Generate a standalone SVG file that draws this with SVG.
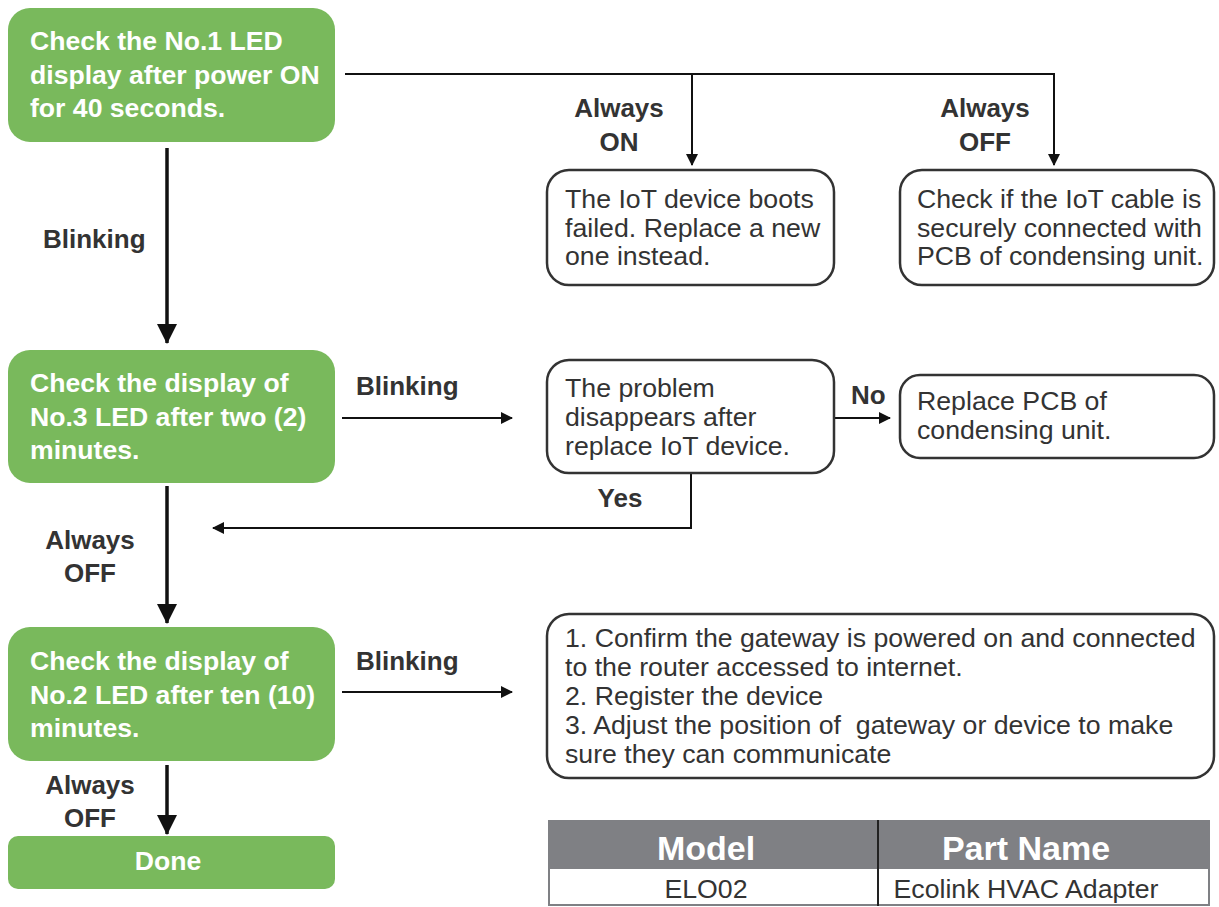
<svg xmlns="http://www.w3.org/2000/svg" width="1219" height="907" viewBox="0 0 1219 907">
<style>
.g{fill:#79b95c}
.gt{font-family:"Liberation Sans",Arial,sans-serif;font-weight:bold;font-size:26.6px;fill:#ffffff}
.wb{fill:#ffffff;stroke:#333333;stroke-width:2.5}
.bt{font-family:"Liberation Sans",Arial,sans-serif;font-size:26.7px;fill:#333333;white-space:pre}
.lb{font-family:"Liberation Sans",Arial,sans-serif;font-weight:bold;font-size:26px;fill:#333333}
.thin{fill:none;stroke:#111111;stroke-width:2}
.thick{fill:none;stroke:#111111;stroke-width:3.5}
</style>
<defs>
<marker id="as" markerWidth="12" markerHeight="12" refX="11" refY="6" orient="auto" markerUnits="userSpaceOnUse">
<path d="M0,0 L12,6 L0,12 Z" fill="#111111"/>
</marker>
<marker id="al" markerWidth="20" markerHeight="20" refX="19" refY="10" orient="auto" markerUnits="userSpaceOnUse">
<path d="M0,0 L20,10 L0,20 Z" fill="#111111"/>
</marker>
</defs>
<rect width="1219" height="907" fill="#ffffff"/>

<g id="connectors">
<polyline class="thin" points="345,74 1054,74 1054,165" marker-end="url(#as)"/>
<line class="thin" x1="692" y1="74" x2="692" y2="165" marker-end="url(#as)"/>
<line class="thick" x1="167" y1="148" x2="167" y2="343" marker-end="url(#al)"/>
<line class="thin" x1="342" y1="418" x2="512" y2="418" marker-end="url(#as)"/>
<line class="thin" x1="834" y1="418" x2="890" y2="418" marker-end="url(#as)"/>
<polyline class="thin" points="691,473 691,528 213,528" marker-end="url(#as)"/>
<line class="thick" x1="167" y1="486" x2="167" y2="623" marker-end="url(#al)"/>
<line class="thin" x1="342" y1="692" x2="512" y2="692" marker-end="url(#as)"/>
<line class="thick" x1="167" y1="765" x2="167" y2="834" marker-end="url(#al)"/>
<text class="lb" x="619" y="117" text-anchor="middle">Always</text>
<text class="lb" x="619" y="151" text-anchor="middle">ON</text>
<text class="lb" x="985" y="117" text-anchor="middle">Always</text>
<text class="lb" x="985" y="151" text-anchor="middle">OFF</text>
<text class="lb" x="43" y="248">Blinking</text>
<text class="lb" x="356" y="395">Blinking</text>
<text class="lb" x="851" y="404">No</text>
<text class="lb" x="620" y="507" text-anchor="middle">Yes</text>
<text class="lb" x="90" y="549" text-anchor="middle">Always</text>
<text class="lb" x="90" y="582" text-anchor="middle">OFF</text>
<text class="lb" x="356" y="670">Blinking</text>
<text class="lb" x="90" y="794" text-anchor="middle">Always</text>
<text class="lb" x="90" y="827" text-anchor="middle">OFF</text>
</g>

<g id="n1">
<rect class="g" x="8" y="8" width="327" height="134" rx="22"/>
<text class="gt" x="30" y="50">Check the No.1 LED</text>
<text class="gt" x="30" y="84">display after power ON</text>
<text class="gt" x="30" y="117">for 40 seconds.</text>
</g>
<g id="n2">
<rect class="wb" x="547" y="170" width="287" height="115" rx="22"/>
<text class="bt" x="565" y="208">The IoT device boots</text>
<text class="bt" x="565" y="237">failed. Replace a new</text>
<text class="bt" x="565" y="265">one instead.</text>
</g>
<g id="n3">
<rect class="wb" x="900" y="170" width="314" height="115" rx="22"/>
<text class="bt" x="917" y="208">Check if the IoT cable is</text>
<text class="bt" x="917" y="237">securely connected with</text>
<text class="bt" x="917" y="265">PCB of condensing unit.</text>
</g>
<g id="n4">
<rect class="g" x="8" y="350" width="327" height="133" rx="22"/>
<text class="gt" x="30" y="392">Check the display of</text>
<text class="gt" x="30" y="426">No.3 LED after two (2)</text>
<text class="gt" x="30" y="459">minutes.</text>
</g>
<g id="n5">
<rect class="wb" x="547" y="360" width="287" height="113" rx="22"/>
<text class="bt" x="565" y="397">The problem</text>
<text class="bt" x="565" y="426">disappears after</text>
<text class="bt" x="565" y="455">replace IoT device.</text>
</g>
<g id="n6">
<rect class="wb" x="900" y="375" width="314" height="83" rx="20"/>
<text class="bt" x="917" y="410">Replace PCB of</text>
<text class="bt" x="917" y="439">condensing unit.</text>
</g>
<g id="n7">
<rect class="g" x="8" y="627" width="327" height="134" rx="22"/>
<text class="gt" x="30" y="670">Check the display of</text>
<text class="gt" x="30" y="704">No.2 LED after ten (10)</text>
<text class="gt" x="30" y="737">minutes.</text>
</g>
<g id="n8">
<rect class="wb" x="547" y="614" width="667" height="164" rx="22"/>
<text class="bt" x="565" y="647">1. Confirm the gateway is powered on and connected</text>
<text class="bt" x="565" y="676">to the router accessed to internet.</text>
<text class="bt" x="565" y="705">2. Register the device</text>
<text class="bt" x="565" y="734">3. Adjust the position of  gateway or device to make</text>
<text class="bt" x="565" y="763">sure they can communicate</text>
</g>
<g id="n9">
<rect class="g" x="8" y="836" width="327" height="53" rx="10"/>
<text class="gt" x="168" y="870" text-anchor="middle">Done</text>
</g>

<g id="table">
<rect x="548" y="820" width="662" height="48" fill="#7f8084"/>
<rect x="549" y="868" width="660" height="37" fill="#ffffff" stroke="#7f8084" stroke-width="2"/>
<line x1="878" y1="820" x2="878" y2="906" stroke="#222222" stroke-width="2"/>
<text x="706" y="860" text-anchor="middle" font-family="'Liberation Sans',Arial,sans-serif" font-weight="bold" font-size="34" fill="#ffffff">Model</text>
<text x="1026" y="860" text-anchor="middle" font-family="'Liberation Sans',Arial,sans-serif" font-weight="bold" font-size="34" fill="#ffffff">Part Name</text>
<text x="706" y="898" text-anchor="middle" class="bt">ELO02</text>
<text x="1026" y="898" text-anchor="middle" class="bt">Ecolink HVAC Adapter</text>
</g>
</svg>
